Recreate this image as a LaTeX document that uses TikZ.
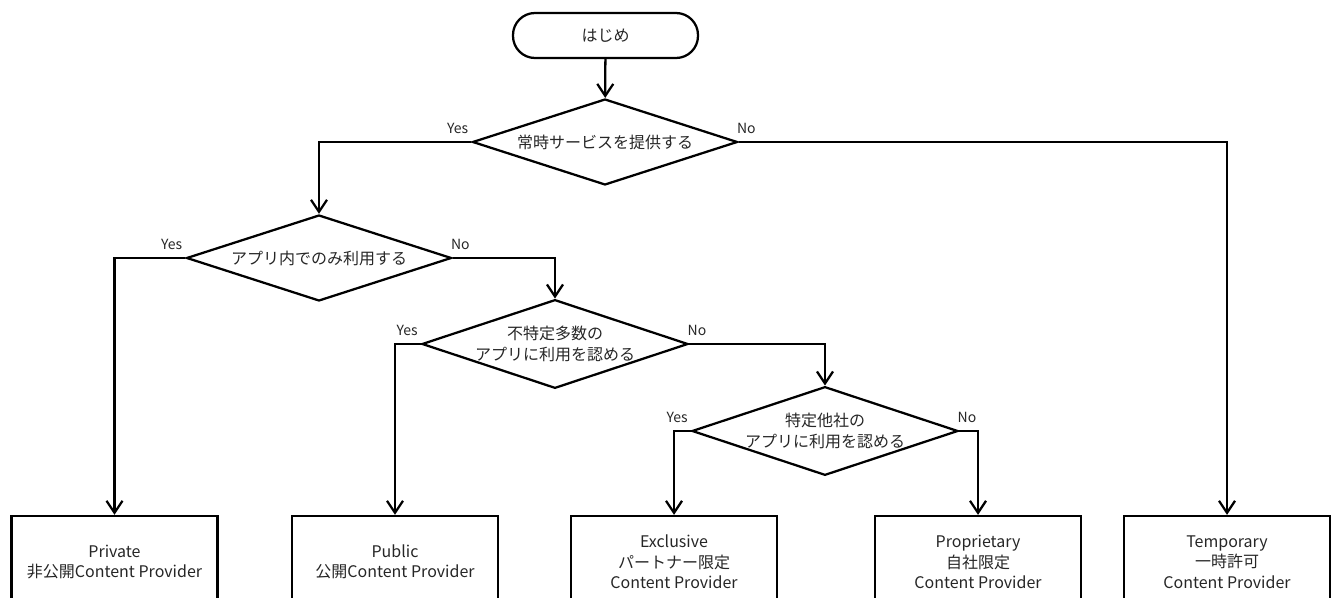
\documentclass[tikz,border=0pt]{standalone}
\usepackage{fontspec}
\setmainfont{Noto Sans CJK JP}
\usetikzlibrary{shapes.geometric,arrows.meta}
\begin{document}
\begin{tikzpicture}[x=0.75pt, y=-0.75pt, line width=1.7pt, line join=miter,
	>={Straight Barb[length=9pt,width=12pt]},
	txt/.style={text=black!85, font=\fontsize{12}{15.4}\selectfont, align=center},
	startbox/.style={txt, draw, rectangle, rounded corners=16.5pt, minimum width=138.75pt, minimum height=33.75pt},
	ask/.style={txt, draw, diamond, shape aspect=3, inner sep=0pt, minimum width=198.75pt, minimum height=64.5pt},
	endbox/.style={txt, draw, rectangle, minimum width=154.5pt, minimum height=69pt},
	yes/.style={text=black!85, font=\fontsize{10.5}{12}\selectfont, inner sep=0pt, anchor=south east, xshift=-1.5pt, yshift=5.5pt},
	no/.style={text=black!85, font=\fontsize{10.5}{12}\selectfont, inner sep=0pt, anchor=south west, xshift=-2pt, yshift=5.5pt}]
	\useasboundingbox (0,0) rectangle (1336,598);
	\clip (0,0) rectangle (1336,598);
	\node[startbox] (start) at (605.5,35.5) {はじめ};
	\node[ask] (q1) at (605,142) {常時サービスを提供する};
	\node[ask] (q2) at (319,258) {アプリ内でのみ利用する};
	\node[ask] (q3) at (555,344) {不特定多数の\\アプリに利用を認める};
	\node[ask] (q4) at (825,431) {特定他社の\\アプリに利用を認める};
	\node[endbox] (private) at (114.5,562) {Private\\非公開Content Provider};
	\node[endbox] (public) at (395,562) {Public\\公開Content Provider};
	\node[endbox] (exclusive) at (674,562) {Exclusive\\パートナー限定\\Content Provider};
	\node[endbox] (proprietary) at (978,562) {Proprietary\\自社限定\\Content Provider};
	\node[endbox] (temporary) at (1227,562) {Temporary\\一時許可\\Content Provider};
	\draw[->] (start) -- (q1);
	\draw[->] (q1.west) -| (q2.north);
	\draw[->] (q1.east) -| (temporary.north);
	\draw[->] (q2.west) -| (private.north);
	\draw[->] (q2.east) -| (q3.north);
	\draw[->] (q3.west) -| (public.north);
	\draw[->] (q3.east) -| (q4.north);
	\draw[->] (q4.west) -| (exclusive.north);
	\draw[->] (q4.east) -| (proprietary.north);
	\node[yes] (yes1) at (q1.west) {Yes};
	\node[no] (no1) at (q1.east) {No};
	\node[yes] (yes2) at (q2.west) {Yes};
	\node[no] (no2) at (q2.east) {No};
	\node[yes] (yes3) at (q3.west) {Yes};
	\node[no] (no3) at (q3.east) {No};
	\node[yes] (yes4) at (q4.west) {Yes};
	\node[no] (no4) at (q4.east) {No};
\end{tikzpicture}
\end{document}
